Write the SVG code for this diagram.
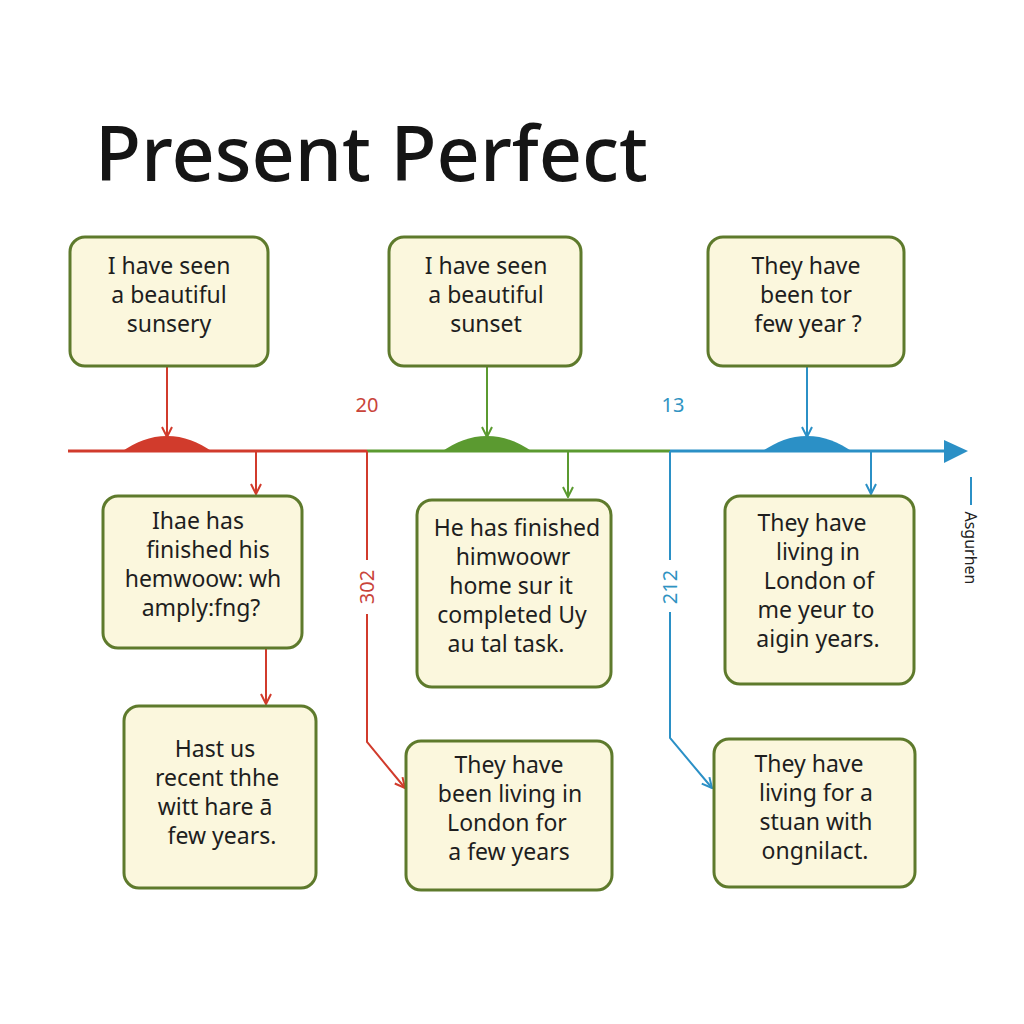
<svg xmlns="http://www.w3.org/2000/svg" width="1024" height="1024" viewBox="0 0 1024 1024">
<defs>
<style>
.box{fill:#fbf7dd;stroke:#5e7a2c;stroke-width:3}
.t{font-family:"Noto Sans","Open Sans",sans-serif;font-size:23px;fill:#1e1e1e;text-anchor:middle}
.r{stroke:#d13b2c;fill:none}
.g{stroke:#5b9a30;fill:none}
.b{stroke:#2b90c6;fill:none}
.lbl{font-family:"Noto Sans","Open Sans",sans-serif;font-size:20px;text-anchor:middle}
</style>
<marker id="ar" viewBox="0 0 12 12" refX="11" refY="6" markerWidth="12" markerHeight="12" markerUnits="userSpaceOnUse" orient="auto"><path d="M1,1 L11,6 L1,11" fill="none" stroke="#d13b2c" stroke-width="2"/></marker>
<marker id="ag" viewBox="0 0 12 12" refX="11" refY="6" markerWidth="12" markerHeight="12" markerUnits="userSpaceOnUse" orient="auto"><path d="M1,1 L11,6 L1,11" fill="none" stroke="#5b9a30" stroke-width="2"/></marker>
<marker id="ab" viewBox="0 0 12 12" refX="11" refY="6" markerWidth="12" markerHeight="12" markerUnits="userSpaceOnUse" orient="auto"><path d="M1,1 L11,6 L1,11" fill="none" stroke="#2b90c6" stroke-width="2"/></marker>
</defs>
<rect width="1024" height="1024" fill="#ffffff"/>
<text x="95" y="181" font-family="'Noto Sans','Open Sans',sans-serif" font-size="76" font-weight="500" fill="#151515" textLength="553" lengthAdjust="spacingAndGlyphs">Present Perfect</text>

<g id="connectors">
<line class="r" x1="68" y1="451" x2="367" y2="451" stroke-width="3"/>
<line class="g" x1="367" y1="451" x2="670" y2="451" stroke-width="3"/>
<line class="b" x1="670" y1="451" x2="948" y2="451" stroke-width="3"/>
<path d="M944,440 L968,451 L944,463 Z" fill="#2b90c6"/>
<path d="M121,452 C136,442 150,436 167,436 C184,436 198,442 213,452 Z" fill="#d13b2c"/>
<path d="M441,452 C456,442 470,436 487,436 C504,436 518,442 533,452 Z" fill="#5b9a30"/>
<path d="M761,452 C776,442 790,436 807,436 C824,436 838,442 853,452 Z" fill="#2b90c6"/>
<line class="r" x1="167" y1="366" x2="167" y2="437" stroke-width="2" marker-end="url(#ar)"/>
<line class="g" x1="487" y1="366" x2="487" y2="437" stroke-width="2" marker-end="url(#ag)"/>
<line class="b" x1="807" y1="366" x2="807" y2="437" stroke-width="2" marker-end="url(#ab)"/>
<line class="r" x1="256" y1="451" x2="256" y2="494" stroke-width="2" marker-end="url(#ar)"/>
<line class="g" x1="568" y1="451" x2="568" y2="497" stroke-width="2" marker-end="url(#ag)"/>
<line class="b" x1="871" y1="451" x2="871" y2="494" stroke-width="2" marker-end="url(#ab)"/>
<line class="r" x1="266" y1="648" x2="266" y2="704" stroke-width="2" marker-end="url(#ar)"/>
<line class="r" x1="367" y1="451" x2="367" y2="560" stroke-width="2"/>
<polyline class="r" points="367,614 367,742 405,788" stroke-width="2" marker-end="url(#ar)"/>
<line class="b" x1="670" y1="451" x2="670" y2="560" stroke-width="2"/>
<polyline class="b" points="670,612 670,738 712,788" stroke-width="2" marker-end="url(#ab)"/>
<line class="b" x1="971" y1="477" x2="971" y2="505" stroke-width="2"/>
<text class="lbl" x="367" y="412" fill="#c9443a">20</text>
<text class="lbl" x="673" y="412" fill="#2f93c2">13</text>
<text class="lbl" transform="translate(374,587) rotate(-90)" fill="#c9443a">302</text>
<text class="lbl" transform="translate(677,587) rotate(-90)" fill="#2f93c2">212</text>
<text transform="translate(965,548) rotate(90)" font-family="'Noto Sans',sans-serif" font-size="16" fill="#222" text-anchor="middle">Asgurhen</text>
</g>

<g id="n1"><rect class="box" x="70" y="237" width="198" height="129" rx="15"/>
<text class="t" x="169" y="274">I have seen</text><text class="t" x="169" y="303">a beautiful</text><text class="t" x="169" y="332">sunsery</text></g>
<g id="n2"><rect class="box" x="389" y="237" width="192" height="129" rx="15"/>
<text class="t" x="486" y="274">I have seen</text><text class="t" x="486" y="303">a beautiful</text><text class="t" x="486" y="332">sunset</text></g>
<g id="n3"><rect class="box" x="708" y="237" width="196" height="129" rx="15"/>
<text class="t" x="806" y="274">They have</text><text class="t" x="806" y="303">been tor</text><text class="t" x="808" y="332">few year ?</text></g>
<g id="n4"><rect class="box" x="103" y="496" width="199" height="152" rx="15"/>
<text class="t" x="198" y="529">Ihae has</text><text class="t" x="208" y="558">finished his</text><text class="t" x="203" y="587">hemwoow: wh</text><text class="t" x="201" y="616">amply:fng?</text></g>
<g id="n5"><rect class="box" x="417" y="500" width="194" height="187" rx="15"/>
<text class="t" x="517" y="536">He has finished</text><text class="t" x="513" y="565">himwoowr</text><text class="t" x="511" y="594">home sur it</text><text class="t" x="512" y="623">completed Uy</text><text class="t" x="506" y="652">au tal task.</text></g>
<g id="n6"><rect class="box" x="725" y="496" width="189" height="188" rx="15"/>
<text class="t" x="812" y="531">They have</text><text class="t" x="818" y="560">living in</text><text class="t" x="819" y="589">London of</text><text class="t" x="816" y="618">me yeur to</text><text class="t" x="818" y="647">aigin years.</text></g>
<g id="n7"><rect class="box" x="124" y="706" width="192" height="182" rx="15"/>
<text class="t" x="215" y="757">Hast us</text><text class="t" x="217" y="786">recent thhe</text><text class="t" x="215" y="815">witt hare ā</text><text class="t" x="222" y="844">few years.</text></g>
<g id="n8"><rect class="box" x="406" y="741" width="206" height="149" rx="15"/>
<text class="t" x="509" y="773">They have</text><text class="t" x="510" y="802">been living in</text><text class="t" x="507" y="831">London for</text><text class="t" x="509" y="860">a few years</text></g>
<g id="n9"><rect class="box" x="714" y="739" width="201" height="148" rx="15"/>
<text class="t" x="809" y="772">They have</text><text class="t" x="816" y="801">living for a</text><text class="t" x="816" y="830">stuan with</text><text class="t" x="815" y="859">ongnilact.</text></g>
</svg>
